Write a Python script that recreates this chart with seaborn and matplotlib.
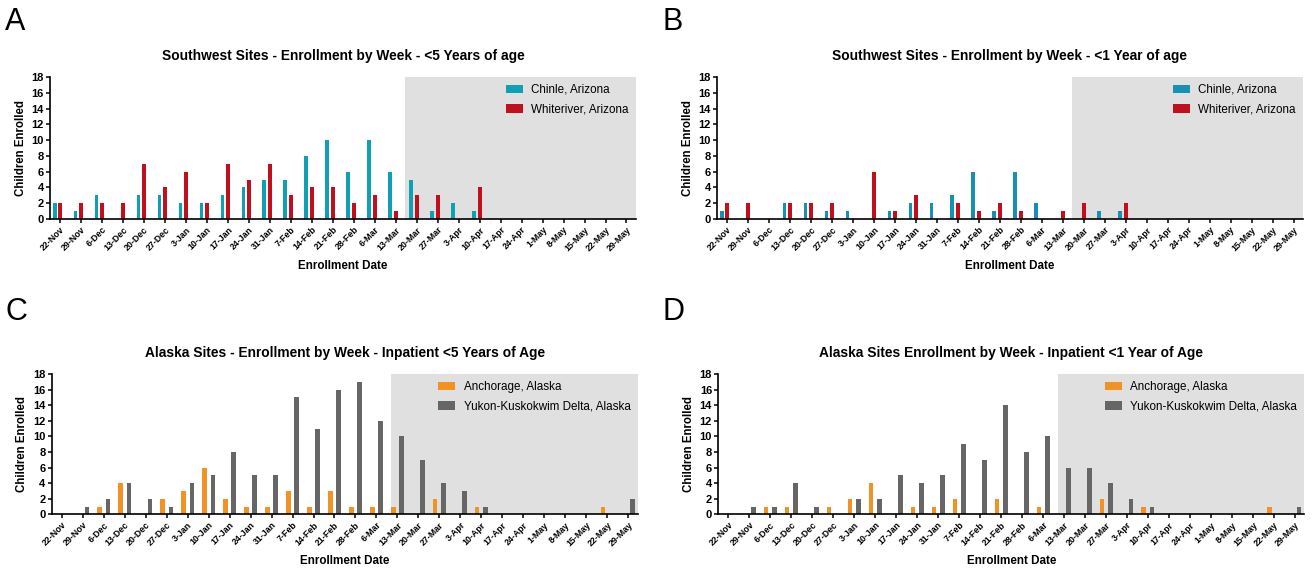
import numpy as np
import pandas as pd
import matplotlib
matplotlib.use("Agg")
import matplotlib.pyplot as plt
import seaborn as sns

sns.set_style("ticks")
plt.rcParams["font.family"] = ["Liberation Sans", "DejaVu Sans"]
plt.rcParams.update({"text.color": "black", "axes.labelcolor": "black",
                     "xtick.color": "black", "ytick.color": "black"})

DATES = ["22-Nov", "29-Nov", "6-Dec", "13-Dec", "20-Dec", "27-Dec", "3-Jan",
         "10-Jan", "17-Jan", "24-Jan", "31-Jan", "7-Feb", "14-Feb", "21-Feb",
         "28-Feb", "6-Mar", "13-Mar", "20-Mar", "27-Mar", "3-Apr", "10-Apr",
         "17-Apr", "24-Apr", "1-May", "8-May", "15-May", "22-May", "29-May"]

chinle_lt5 = [2, 1, 3, 0, 3, 3, 2, 2, 3, 4, 5, 5, 8, 10, 6, 10, 6, 5, 1, 2, 1, 0, 0, 0, 0, 0, 0, 0]
whiteriver_lt5 = [2, 2, 2, 2, 7, 4, 6, 2, 7, 5, 7, 3, 4, 4, 2, 3, 1, 3, 3, 0, 4, 0, 0, 0, 0, 0, 0, 0]
chinle_lt1 = [1, 0, 0, 2, 2, 1, 1, 0, 1, 2, 2, 3, 6, 1, 6, 2, 0, 0, 1, 1, 0, 0, 0, 0, 0, 0, 0, 0]
whiteriver_lt1 = [2, 2, 0, 2, 2, 2, 0, 6, 1, 3, 0, 2, 1, 2, 1, 0, 1, 2, 0, 2, 0, 0, 0, 0, 0, 0, 0, 0]
anchorage_lt5 = [0, 0, 1, 4, 0, 2, 3, 6, 2, 1, 1, 3, 1, 3, 1, 1, 1, 0, 2, 0, 1, 0, 0, 0, 0, 0, 1, 0]
ykd_lt5 = [0, 1, 2, 4, 2, 1, 4, 5, 8, 5, 5, 15, 11, 16, 17, 12, 10, 7, 4, 3, 1, 0, 0, 0, 0, 0, 0, 2]
anchorage_lt1 = [0, 0, 1, 1, 0, 1, 2, 4, 0, 1, 1, 2, 0, 2, 0, 1, 0, 0, 2, 0, 1, 0, 0, 0, 0, 0, 1, 0]
ykd_lt1 = [0, 1, 1, 4, 1, 0, 2, 2, 5, 4, 5, 9, 7, 14, 8, 10, 6, 6, 4, 2, 1, 0, 0, 0, 0, 0, 0, 1]

SW_SITES = ["Chinle, Arizona", "Whiteriver, Arizona"]
AK_SITES = ["Anchorage, Alaska", "Yukon-Kuskokwim Delta, Alaska"]

SHADE = "#e0e0e0"


def long_df(names, series):
    rows = []
    for name, vals in zip(names, series):
        for d, v in zip(DATES, vals):
            rows.append({"date": d, "site": name, "n": v})
    return pd.DataFrame(rows)


def panel(fig, rect, letter, letter_xy, title, names, series, colors,
          width, gap, tick_shift, shade_start):
    ax = fig.add_axes(rect)
    df = long_df(names, series)
    # shaded period (grey box behind the bars)
    ax.axvspan(shade_start, 40, color=SHADE, zorder=0, lw=0)
    sns.barplot(data=df, x="date", y="n", hue="site", order=DATES,
                hue_order=names, palette=colors, width=width, gap=gap,
                saturation=1, linewidth=0, errorbar=None, ax=ax, zorder=2)
    n = len(DATES)
    ax.set_xlim(tick_shift - 0.48, n - 1 + tick_shift + 0.45)
    ax.set_ylim(0, 18)
    ax.set_yticks(np.arange(0, 19, 2))
    ax.set_xticks(np.arange(n) + tick_shift)
    ax.set_xticklabels(DATES, rotation=45, ha="right", rotation_mode="anchor",
                       fontsize=6.4, fontweight="bold")
    for t in ax.get_yticklabels():
        t.set_fontsize(8)
        t.set_fontweight("bold")
    ax.tick_params(axis="both", length=3, width=1.1, pad=1.5, color="black")
    for s in ["top", "right"]:
        ax.spines[s].set_visible(False)
    for s in ["left", "bottom"]:
        ax.spines[s].set_linewidth(1.2)
        ax.spines[s].set_color("black")
    ax.set_xlabel("Enrollment Date", fontsize=8.4, fontweight="bold")
    ax.set_ylabel("Children Enrolled", fontsize=8.3, fontweight="bold")
    ax.xaxis.set_label_coords(0.5, -0.29)
    ax.yaxis.set_label_coords(-0.040, 0.5)
    ax.set_title(title, fontsize=9.9, fontweight="bold", pad=12)
    ax.legend(loc="upper right", bbox_to_anchor=(1.0, 1.0), frameon=False,
              fontsize=8.4, handlelength=1.45, handleheight=0.75,
              labelspacing=0.65, handletextpad=0.75, borderaxespad=0.2)
    fig.text(letter_xy[0], letter_xy[1], letter, fontsize=22, va="top", ha="left")
    return ax


fig = plt.figure(figsize=(13.12, 5.69), dpi=100)

panel(fig, [0.0381, 0.6151, 0.4466, 0.2496], "A", (0.004, 0.988),
      "Southwest Sites - Enrollment by Week - <5 Years of age",
      SW_SITES, [chinle_lt5, whiteriver_lt5], ["#10a0b4", "#c0101e"],
      0.52, 0.3, 0.13, 16.56)
panel(fig, [0.5465, 0.6151, 0.4466, 0.2496], "B", (0.505, 0.988),
      "Southwest Sites - Enrollment by Week - <1 Year of age",
      SW_SITES, [chinle_lt1, whiteriver_lt1], ["#1890b2", "#c0101e"],
      0.52, 0.3, 0.13, 16.56)
panel(fig, [0.0394, 0.0961, 0.4466, 0.2466], "C", (0.004, 0.478),
      "Alaska Sites - Enrollment by Week - Inpatient <5 Years of Age",
      AK_SITES, [anchorage_lt5, ykd_lt5], ["#f39224", "#666666"],
      0.8, 0.45, 0.0, 15.7)
panel(fig, [0.5475, 0.0961, 0.4466, 0.2466], "D", (0.505, 0.478),
      "Alaska Sites Enrollment by Week - Inpatient <1 Year of Age",
      AK_SITES, [anchorage_lt1, ykd_lt1], ["#f39224", "#666666"],
      0.8, 0.45, 0.0, 15.7)

fig.savefig("out.png", dpi=100)
